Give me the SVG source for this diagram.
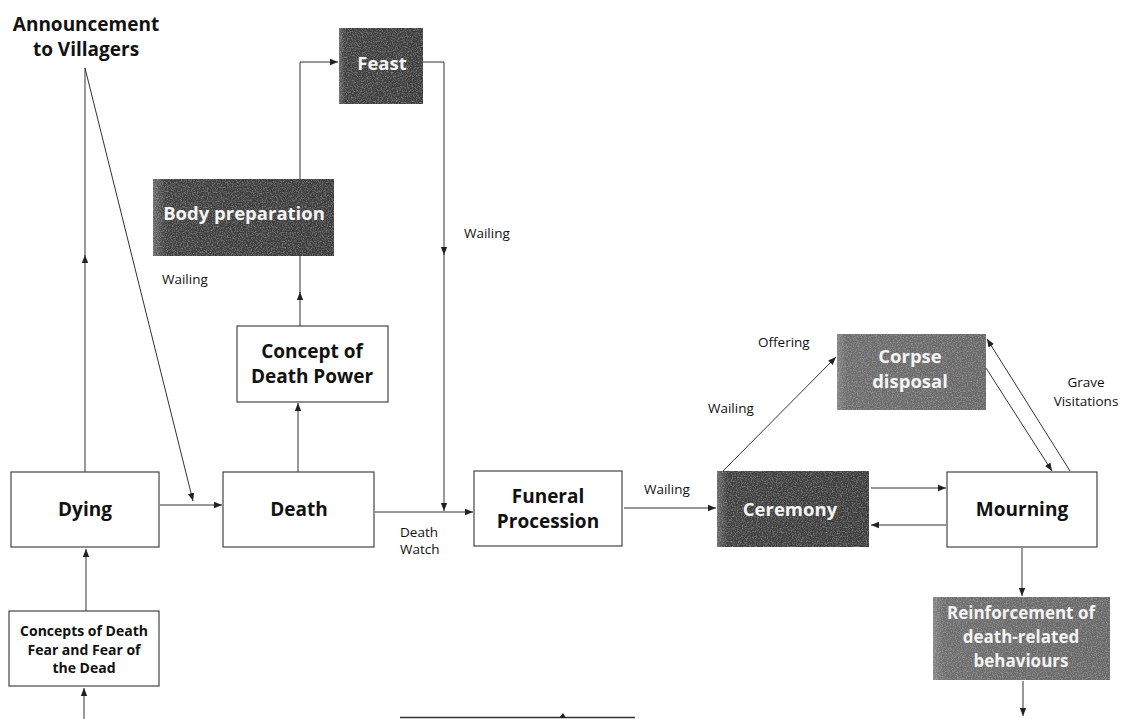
<svg xmlns="http://www.w3.org/2000/svg" width="1121" height="719" viewBox="0 0 1121 719">
<defs>
<style>
.box{fill:#fff;stroke:#444;stroke-width:1.2}
.t{font-family:"Open Sans","Liberation Sans",sans-serif;font-weight:bold;font-size:19px;fill:#111;text-anchor:middle}
.tw{font-family:"Open Sans","Liberation Sans",sans-serif;font-weight:bold;font-size:18.5px;fill:#f4f4f4;text-anchor:middle}
.s{font-family:"Open Sans","Liberation Sans",sans-serif;font-size:13.5px;fill:#111}
.c{fill:none;stroke:#333;stroke-width:1}
.noise{fill:#000;filter:url(#nz);opacity:0.6}
</style>
<marker id="ah" markerWidth="9" markerHeight="8" refX="8" refY="4" orient="auto" markerUnits="userSpaceOnUse">
<path d="M0,0.8 L8,4 L0,7.2 Z" fill="#222"/>
</marker>
<linearGradient id="dk" x1="0" y1="0" x2="1" y2="0">
<stop offset="0" stop-color="#6a6a6a"/>
<stop offset="0.07" stop-color="#3e3e3e"/>
<stop offset="1" stop-color="#3a3a3a"/>
</linearGradient>
<linearGradient id="md" x1="0" y1="0" x2="1" y2="0">
<stop offset="0" stop-color="#858585"/>
<stop offset="0.06" stop-color="#6c6c6c"/>
<stop offset="1" stop-color="#666666"/>
</linearGradient>
<filter id="nz" x="0" y="0" width="100%" height="100%">
<feTurbulence type="fractalNoise" baseFrequency="0.8" numOctaves="2" seed="3" result="n"/>
<feColorMatrix in="n" type="matrix" values="0 0 0 0 0.55  0 0 0 0 0.55  0 0 0 0 0.55  0 0 0 2 -0.8" result="g"/>
<feComposite in="g" in2="SourceGraphic" operator="in"/>
</filter>
</defs>
<rect width="1121" height="719" fill="#fff"/>

<g id="connectors">
<line class="c" x1="85" y1="472" x2="85" y2="255" marker-end="url(#ah)"/>
<line class="c" x1="85" y1="256" x2="85" y2="68"/>
<line class="c" x1="85" y1="68" x2="193" y2="501" marker-end="url(#ah)"/>
<line class="c" x1="160" y1="505" x2="222" y2="505" marker-end="url(#ah)"/>
<line class="c" x1="298" y1="472" x2="298" y2="403" marker-end="url(#ah)"/>
<line class="c" x1="300" y1="326" x2="300" y2="292" marker-end="url(#ah)"/>
<line class="c" x1="300" y1="293" x2="300" y2="256"/>
<polyline class="c" points="300,179 300,62 338,62" marker-end="url(#ah)"/>
<polyline class="c" points="423,62 444,62 444,255" marker-end="url(#ah)"/>
<line class="c" x1="444" y1="254" x2="444" y2="511" marker-end="url(#ah)"/>
<line class="c" x1="375" y1="512" x2="473" y2="512" marker-end="url(#ah)"/>
<line class="c" x1="624" y1="508" x2="716" y2="508" marker-end="url(#ah)"/>
<line class="c" x1="723" y1="471" x2="836" y2="357" marker-end="url(#ah)"/>
<line class="c" x1="871" y1="488" x2="946" y2="488" marker-end="url(#ah)"/>
<line class="c" x1="946" y1="525" x2="871" y2="525" marker-end="url(#ah)"/>
<line class="c" x1="986" y1="368" x2="1052" y2="471" marker-end="url(#ah)"/>
<line class="c" x1="1070" y1="471" x2="987" y2="339" marker-end="url(#ah)"/>
<line class="c" x1="1022" y1="548" x2="1022" y2="596" marker-end="url(#ah)"/>
<line class="c" x1="1023" y1="681" x2="1023" y2="716" marker-end="url(#ah)"/>
<line class="c" x1="86" y1="611" x2="86" y2="549" marker-end="url(#ah)"/>
<line class="c" x1="84" y1="719" x2="84" y2="688" marker-end="url(#ah)"/>
<line x1="400" y1="717.5" x2="635" y2="717.5" stroke="#333" stroke-width="1.5"/>
<path d="M559,718 L563,713 L566,718 Z" fill="#222"/>
</g>

<g id="announcement">
<text class="t" x="86" y="31">Announcement</text>
<text class="t" x="86" y="56">to Villagers</text>
</g>

<g id="feast">
<rect x="339" y="28" width="84" height="76" fill="url(#dk)"/>
<rect x="339" y="28" width="84" height="76" class="noise"/>
<text class="tw" x="382" y="70">Feast</text>
</g>

<g id="body-preparation">
<rect x="153" y="179" width="181" height="77" fill="url(#dk)"/>
<rect x="153" y="179" width="181" height="77" class="noise"/>
<text class="tw" x="244" y="220">Body preparation</text>
</g>

<g id="concept-death-power">
<rect class="box" x="237" y="326" width="151" height="76"/>
<text class="t" x="312" y="358">Concept of</text>
<text class="t" x="312" y="383">Death Power</text>
</g>

<g id="dying">
<rect class="box" x="11" y="472" width="148" height="75"/>
<text class="t" x="85" y="516">Dying</text>
</g>

<g id="death">
<rect class="box" x="223" y="472" width="151" height="75"/>
<text class="t" x="299" y="516">Death</text>
</g>

<g id="funeral-procession">
<rect class="box" x="474" y="471" width="148" height="75"/>
<text class="t" x="548" y="503">Funeral</text>
<text class="t" x="548" y="528">Procession</text>
</g>

<g id="ceremony">
<rect x="717" y="471" width="152" height="76" fill="url(#dk)"/>
<rect x="717" y="471" width="152" height="76" class="noise"/>
<text class="tw" x="790" y="516">Ceremony</text>
</g>

<g id="corpse-disposal">
<rect x="837" y="334" width="149" height="76" fill="url(#md)"/>
<rect x="837" y="334" width="149" height="76" class="noise"/>
<text class="tw" x="910" y="363">Corpse</text>
<text class="tw" x="910" y="388">disposal</text>
</g>

<g id="mourning">
<rect class="box" x="947" y="472" width="150" height="75"/>
<text class="t" x="1022" y="516">Mourning</text>
</g>

<g id="reinforcement">
<rect x="933" y="597" width="177" height="83" fill="url(#md)"/>
<rect x="933" y="597" width="177" height="83" class="noise"/>
<text class="tw" x="1021" y="619" style="font-size:17px">Reinforcement of</text>
<text class="tw" x="1021" y="643" style="font-size:17px">death-related</text>
<text class="tw" x="1021" y="667" style="font-size:17px">behaviours</text>
</g>

<g id="concepts-of-death">
<rect class="box" x="9" y="611" width="150" height="75"/>
<text class="t" x="84" y="636" style="font-size:14px">Concepts of Death</text>
<text class="t" x="84" y="655" style="font-size:14px">Fear and Fear of</text>
<text class="t" x="84" y="673" style="font-size:14px">the Dead</text>
</g>

<g id="labels">
<text class="s" x="162" y="284">Wailing</text>
<text class="s" x="464" y="238">Wailing</text>
<text class="s" x="400" y="537">Death</text>
<text class="s" x="400" y="554">Watch</text>
<text class="s" x="644" y="494">Wailing</text>
<text class="s" x="758" y="347">Offering</text>
<text class="s" x="708" y="413">Wailing</text>
<text class="s" x="1086" y="387" text-anchor="middle">Grave</text>
<text class="s" x="1086" y="406" text-anchor="middle">Visitations</text>
</g>
</svg>
